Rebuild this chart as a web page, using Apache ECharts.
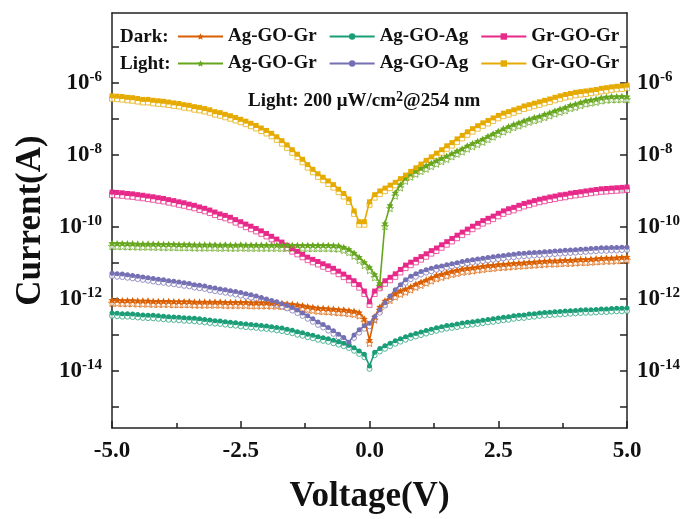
<!DOCTYPE html>
<html>
<head>
<meta charset="utf-8">
<script src="https://cdn.jsdelivr.net/npm/echarts@6/dist/echarts.min.js"></script>
<style>html,body{margin:0;padding:0;background:#fff;}#c{width:692px;height:519px;}</style>
</head>
<body>
<div id="c"></div>
<script>
const voltage = [-5.0,-4.9,-4.8,-4.7,-4.6,-4.5,-4.4,-4.3,-4.2,-4.1,
 -4.0,-3.9,-3.8,-3.7,-3.6,-3.5,-3.4,-3.3,-3.2,-3.1,
 -3.0,-2.9,-2.8,-2.7,-2.6,-2.5,-2.4,-2.3,-2.2,-2.1,
 -2.0,-1.9,-1.8,-1.7,-1.6,-1.5,-1.4,-1.3,-1.2,-1.1,
 -1.0,-0.9,-0.8,-0.7,-0.6,-0.5,-0.4,-0.3,-0.2,-0.1,
 0.0,0.1,0.2,0.3,0.4,0.5,0.6,0.7,0.8,0.9,
 1.0,1.1,1.2,1.3,1.4,1.5,1.6,1.7,1.8,1.9,
 2.0,2.1,2.2,2.3,2.4,2.5,2.6,2.7,2.8,2.9,
 3.0,3.1,3.2,3.3,3.4,3.5,3.6,3.7,3.8,3.9,
 4.0,4.1,4.2,4.3,4.4,4.5,4.6,4.7,4.8,4.9,
 5.0];

// Dark: Ag-GO-Gr
const darkAgGOGr = [9.3e-13,9.3e-13,9.1e-13,9.1e-13,9.1e-13,8.9e-13,8.9e-13,8.9e-13,8.7e-13,8.7e-13,
 8.7e-13,8.7e-13,8.5e-13,8.5e-13,8.5e-13,8.5e-13,8.3e-13,8.3e-13,8.3e-13,8.3e-13,
 8.3e-13,8.3e-13,8.1e-13,8.1e-13,8.1e-13,8.1e-13,8.1e-13,7.9e-13,7.9e-13,7.9e-13,
 7.9e-13,7.8e-13,7.8e-13,7.6e-13,7.4e-13,7.2e-13,6.9e-13,6.6e-13,6.2e-13,5.9e-13,
 5.6e-13,5.5e-13,5.4e-13,5.25e-13,5.1e-13,5.0e-13,4.8e-13,4.6e-13,4.2e-13,2.8e-13,
 7.2e-14,3.2e-13,6.0e-13,8.9e-13,1.12e-12,1.4e-12,1.66e-12,1.9e-12,2.2e-12,2.6e-12,
 2.95e-12,3.4e-12,3.9e-12,4.5e-12,4.9e-12,5.4e-12,5.9e-12,6.3e-12,6.8e-12,7.1e-12,
 7.4e-12,7.8e-12,8.1e-12,8.5e-12,8.7e-12,9.1e-12,9.3e-12,9.5e-12,9.8e-12,1.0e-11,
 1.02e-11,1.05e-11,1.07e-11,1.1e-11,1.12e-11,1.15e-11,1.15e-11,1.17e-11,1.2e-11,1.2e-11,
 1.23e-11,1.26e-11,1.26e-11,1.29e-11,1.32e-11,1.35e-11,1.38e-11,1.38e-11,1.41e-11,1.45e-11,
 1.48e-11];

// Dark: Ag-GO-Ag
const darkAgGOAg = [4.1e-13,4.0e-13,3.9e-13,3.9e-13,3.8e-13,3.7e-13,3.6e-13,3.55e-13,3.5e-13,3.4e-13,
 3.3e-13,3.2e-13,3.16e-13,3.1e-13,3.0e-13,2.95e-13,2.9e-13,2.8e-13,2.7e-13,2.6e-13,
 2.5e-13,2.45e-13,2.34e-13,2.24e-13,2.19e-13,2.09e-13,2.0e-13,1.95e-13,1.9e-13,1.82e-13,
 1.78e-13,1.7e-13,1.62e-13,1.55e-13,1.45e-13,1.35e-13,1.23e-13,1.15e-13,1.05e-13,9.8e-14,
 8.9e-14,8.3e-14,7.8e-14,7.1e-14,6.5e-14,5.9e-14,5.25e-14,4.4e-14,3.6e-14,2.9e-14,
 1.38e-14,3.3e-14,4.2e-14,5.0e-14,5.9e-14,6.9e-14,7.9e-14,8.9e-14,1.0e-13,1.1e-13,
 1.2e-13,1.32e-13,1.45e-13,1.58e-13,1.7e-13,1.82e-13,1.9e-13,2.0e-13,2.14e-13,2.24e-13,
 2.34e-13,2.45e-13,2.57e-13,2.7e-13,2.8e-13,2.95e-13,3.1e-13,3.2e-13,3.4e-13,3.55e-13,
 3.6e-13,3.8e-13,3.9e-13,4.1e-13,4.2e-13,4.3e-13,4.4e-13,4.5e-13,4.6e-13,4.7e-13,
 4.8e-13,4.9e-13,5.0e-13,5.0e-13,5.1e-13,5.25e-13,5.25e-13,5.4e-13,5.5e-13,5.5e-13,
 5.6e-13];

// Dark: Gr-GO-Gr
const darkGrGOGr = [9.3e-10,9.1e-10,8.9e-10,8.5e-10,8.3e-10,7.9e-10,7.6e-10,7.2e-10,6.9e-10,6.5e-10,
 6.2e-10,5.75e-10,5.4e-10,5.0e-10,4.7e-10,4.3e-10,4.0e-10,3.6e-10,3.3e-10,2.95e-10,
 2.6e-10,2.3e-10,2.1e-10,1.86e-10,1.6e-10,1.4e-10,1.2e-10,1.05e-10,9.1e-11,7.8e-11,
 6.6e-11,5.5e-11,4.6e-11,3.8e-11,3.1e-11,2.5e-11,2.1e-11,1.74e-11,1.45e-11,1.26e-11,
 1.1e-11,9.5e-12,8.3e-12,7.1e-12,5.9e-12,4.9e-12,4.0e-12,3.2e-12,2.5e-12,1.66e-12,
 8.3e-13,1.66e-12,2.4e-12,3.2e-12,4.0e-12,5.0e-12,6.6e-12,8.7e-12,1.05e-11,1.26e-11,
 1.5e-11,1.8e-11,2.2e-11,2.6e-11,3.2e-11,3.9e-11,4.8e-11,5.9e-11,7.2e-11,8.7e-11,
 1.05e-10,1.26e-10,1.5e-10,1.74e-10,2.0e-10,2.4e-10,2.8e-10,3.2e-10,3.5e-10,4.0e-10,
 4.5e-10,4.9e-10,5.4e-10,5.9e-10,6.3e-10,6.8e-10,7.2e-10,7.8e-10,8.1e-10,8.7e-10,
 9.1e-10,9.5e-10,1.0e-9,1.05e-9,1.1e-9,1.15e-9,1.17e-9,1.2e-9,1.23e-9,1.26e-9,
 1.29e-9];

// Light: Ag-GO-Gr
const lightAgGOGr = [3.55e-11,3.5e-11,3.5e-11,3.45e-11,3.45e-11,3.4e-11,3.4e-11,3.4e-11,3.35e-11,3.35e-11,
 3.3e-11,3.3e-11,3.3e-11,3.25e-11,3.25e-11,3.25e-11,3.2e-11,3.2e-11,3.2e-11,3.2e-11,
 3.2e-11,3.15e-11,3.2e-11,3.15e-11,3.15e-11,3.2e-11,3.15e-11,3.15e-11,3.15e-11,3.15e-11,
 3.15e-11,3.15e-11,3.15e-11,3.1e-11,3.15e-11,3.1e-11,3.1e-11,3.1e-11,3.1e-11,3.1e-11,
 3.1e-11,3.1e-11,3.1e-11,3.05e-11,3.0e-11,2.75e-11,2.4e-11,1.9e-11,1.45e-11,1.05e-11,
 7.6e-12,4.8e-12,2.75e-12,1.26e-10,4.0e-10,8.9e-10,1.5e-9,2.3e-9,3.0e-9,3.6e-9,
 4.3e-9,5.0e-9,5.9e-9,6.9e-9,8.1e-9,9.3e-9,1.1e-8,1.3e-8,1.5e-8,1.8e-8,
 2.1e-8,2.4e-8,2.8e-8,3.3e-8,3.9e-8,4.6e-8,5.4e-8,6.2e-8,7.1e-8,7.9e-8,
 8.9e-8,1.0e-7,1.1e-7,1.2e-7,1.35e-7,1.5e-7,1.7e-7,1.9e-7,2.1e-7,2.4e-7,
 2.6e-7,2.9e-7,3.2e-7,3.4e-7,3.6e-7,3.9e-7,4.1e-7,4.2e-7,4.2e-7,4.3e-7,
 4.2e-7];

// Light: Ag-GO-Ag
const lightAgGOAg = [5.2e-12,5.0e-12,4.9e-12,4.7e-12,4.5e-12,4.3e-12,4.1e-12,3.9e-12,3.7e-12,3.5e-12,
 3.4e-12,3.2e-12,3.1e-12,2.95e-12,2.8e-12,2.7e-12,2.5e-12,2.4e-12,2.3e-12,2.1e-12,
 2.0e-12,1.9e-12,1.8e-12,1.7e-12,1.6e-12,1.5e-12,1.4e-12,1.3e-12,1.2e-12,1.1e-12,
 1.0e-12,9.1e-13,8.3e-13,7.4e-13,6.6e-13,5.75e-13,4.9e-13,4.1e-13,3.4e-13,2.8e-13,
 2.3e-13,1.95e-13,1.6e-13,1.3e-13,1.05e-13,8.5e-14,6.3e-14,1.0e-13,1.4e-13,1.8e-13,
 2.1e-13,3.2e-13,5.0e-13,7.9e-13,1.2e-12,1.8e-12,2.5e-12,3.4e-12,4.3e-12,5.0e-12,
 5.75e-12,6.5e-12,7.1e-12,7.8e-12,8.3e-12,8.9e-12,9.5e-12,1.02e-11,1.1e-11,1.17e-11,
 1.23e-11,1.29e-11,1.35e-11,1.41e-11,1.48e-11,1.55e-11,1.62e-11,1.7e-11,1.74e-11,1.82e-11,
 1.86e-11,1.91e-11,1.95e-11,2.0e-11,2.04e-11,2.09e-11,2.14e-11,2.19e-11,2.24e-11,2.29e-11,
 2.34e-11,2.4e-11,2.45e-11,2.51e-11,2.57e-11,2.63e-11,2.63e-11,2.69e-11,2.69e-11,2.75e-11,
 2.75e-11];

// Light: Gr-GO-Gr
const lightGrGOGr = [4.4e-7,4.3e-7,4.2e-7,4.0e-7,3.9e-7,3.7e-7,3.5e-7,3.5e-7,3.3e-7,3.2e-7,
 3.1e-7,2.95e-7,2.8e-7,2.7e-7,2.5e-7,2.4e-7,2.2e-7,2.1e-7,1.95e-7,1.8e-7,
 1.6e-7,1.5e-7,1.35e-7,1.23e-7,1.1e-7,9.8e-8,8.7e-8,7.6e-8,6.6e-8,5.6e-8,
 4.8e-8,4.0e-8,3.2e-8,2.5e-8,1.9e-8,1.4e-8,1.05e-8,7.6e-9,5.4e-9,4.0e-9,
 3.0e-9,2.4e-9,1.9e-9,1.5e-9,1.12e-9,8.5e-10,6.0e-10,2.8e-10,1.4e-10,1.4e-10,
 5.0e-10,7.9e-10,1.0e-9,1.2e-9,1.45e-9,1.74e-9,2.2e-9,2.75e-9,3.5e-9,4.4e-9,
 5.6e-9,7.1e-9,8.9e-9,1.12e-8,1.4e-8,1.8e-8,2.2e-8,2.8e-8,3.5e-8,4.4e-8,
 5.4e-8,6.5e-8,7.8e-8,9.1e-8,1.07e-7,1.26e-7,1.45e-7,1.6e-7,1.8e-7,2.0e-7,
 2.3e-7,2.5e-7,2.75e-7,3.0e-7,3.3e-7,3.6e-7,4.0e-7,4.4e-7,4.8e-7,5.1e-7,
 5.5e-7,5.75e-7,6.0e-7,6.3e-7,6.6e-7,7.1e-7,7.4e-7,7.8e-7,8.1e-7,8.3e-7,
 8.7e-7];

const darkNames = ['Dark Ag-GO-Gr', 'Dark Ag-GO-Ag', 'Dark Gr-GO-Gr'];
const lightNames = ['Light Ag-GO-Gr', 'Light Ag-GO-Ag', 'Light Gr-GO-Gr'];
const yLabelValues = [1e-14, 1e-12, 1e-10, 1e-8, 1e-6];
const yTickValues = [1e-15, 1e-14, 1e-13, 1e-12, 1e-11, 1e-10, 1e-9, 1e-8, 1e-7, 1e-6, 1e-5];

const F = '"Liberation Serif", "Times New Roman", serif';
const STAR = 'path://M0,-10L2.94,-4.05L9.51,-3.09L4.76,1.55L5.88,8.09L0,5L-5.88,8.09L-4.76,1.55L-9.51,-3.09L-2.94,-4.05Z';

const specs = [
  { name: darkNames[0], data: darkAgGOGr, color: '#D95F02', symbol: STAR, size: 7 },
  { name: darkNames[1], data: darkAgGOAg, color: '#1B9E77', symbol: 'circle', size: 5 },
  { name: darkNames[2], data: darkGrGOGr, color: '#E7298A', symbol: 'rect', size: 5 },
  { name: lightNames[0], data: lightAgGOGr, color: '#66A61E', symbol: STAR, size: 7 },
  { name: lightNames[1], data: lightAgGOAg, color: '#7570B3', symbol: 'circle', size: 5 },
  { name: lightNames[2], data: lightGrGOGr, color: '#E6AB02', symbol: 'rect', size: 5 }
];

const series = [];
specs.forEach(s => {
  series.push({
    name: s.name + ' (sweep)', type: 'line', silent: true,
    data: voltage.map((v, k) => [v, s.data[k]]),
    symbol: s.symbol, symbolSize: s.size, symbolOffset: [0, 3], showAllSymbol: true,
    itemStyle: { color: '#fff', borderColor: s.color, borderWidth: 1, opacity: 0.75 },
    lineStyle: { opacity: 0 }, z: 2, animation: false
  });
});
specs.forEach(s => {
  series.push({
    name: s.name, type: 'line',
    data: voltage.map((v, k) => [v, s.data[k]]),
    symbol: s.symbol, symbolSize: s.size, showAllSymbol: true,
    itemStyle: { color: s.color },
    lineStyle: { color: s.color, width: 1.6 }, z: 3, animation: false
  });
});

const yLabel = {
  customValues: yLabelValues,
  formatter: v => '{b|10}{s|' + Math.round(Math.log10(v)) + '}',
  rich: {
    b: { fontSize: 23, fontWeight: 'bold', fontFamily: F, color: '#111' },
    s: { fontSize: 15, fontWeight: 'bold', fontFamily: F, color: '#111', verticalAlign: 'top', padding: [0, 0, 12, 0] }
  }
};
const axisLineStyle = { color: '#222', width: 1.5 };
const tickStyle = { color: '#222', width: 1.5 };

const legendCommon = {
  left: 177, itemWidth: 45, itemHeight: 8, itemGap: 12, padding: 0,
  selectedMode: false,
  formatter: n => n.replace(/^(Dark|Light) /, ''),
  textStyle: { fontSize: 19, fontWeight: 'bold', fontFamily: F, color: '#111' }
};

const option = {
  animation: false,
  backgroundColor: '#fff',
  grid: { left: 112, right: 65, top: 13, bottom: 91, containLabel: false },
  legend: [
    Object.assign({}, legendCommon, { data: darkNames, top: 27 }),
    Object.assign({}, legendCommon, { data: lightNames, top: 54 })
  ],
  xAxis: [{
    type: 'value', min: -5, max: 5, interval: 2.5, position: 'bottom',
    name: 'Voltage(V)', nameLocation: 'middle', nameGap: 51,
    nameTextStyle: { fontSize: 35, fontWeight: 'bold', fontFamily: F, color: '#111' },
    axisLine: { show: true, onZero: false, lineStyle: axisLineStyle },
    axisTick: { show: true, inside: true, length: 7, lineStyle: tickStyle },
    minorTick: { show: true, splitNumber: 2, length: 5, lineStyle: tickStyle },
    axisLabel: { margin: 12, formatter: v => v.toFixed(1), fontSize: 23, fontWeight: 'bold', fontFamily: F, color: '#111' },
    splitLine: { show: false }
  }, {
    type: 'value', min: -5, max: 5, position: 'top',
    axisLine: { show: true, onZero: false, lineStyle: axisLineStyle },
    axisTick: { show: false }, axisLabel: { show: false }, splitLine: { show: false }
  }],
  yAxis: [{
    type: 'log', logBase: 10, min: 2.6e-16, max: 8.8e-5, position: 'left',
    name: 'Current(A)', nameLocation: 'middle', nameGap: 64, nameRotate: 90,
    nameTextStyle: { fontSize: 35, fontWeight: 'bold', fontFamily: F, color: '#111' },
    axisLine: { show: true, onZero: false, lineStyle: axisLineStyle },
    axisTick: { show: true, inside: true, length: 7, customValues: yTickValues, lineStyle: tickStyle },
    axisLabel: Object.assign({ margin: 10 }, yLabel),
    splitLine: { show: false }, minorTick: { show: false }
  }, {
    type: 'log', logBase: 10, min: 2.6e-16, max: 8.8e-5, position: 'right',
    axisLine: { show: true, onZero: false, lineStyle: axisLineStyle },
    axisTick: { show: true, inside: true, length: 7, customValues: yTickValues, lineStyle: tickStyle },
    axisLabel: Object.assign({ margin: 10 }, yLabel),
    splitLine: { show: false }, minorTick: { show: false }
  }],
  graphic: [
    { type: 'text', left: 120, top: 28, style: { text: 'Dark:', font: 'bold 19px ' + F, fill: '#111' } },
    { type: 'text', left: 120, top: 55, style: { text: 'Light:', font: 'bold 19px ' + F, fill: '#111' } },
    { type: 'text', left: 248, top: 90, style: {
      text: '{n|Light: 200 μW/cm}{s|2}{n|@254 nm}',
      rich: {
        n: { fontSize: 19, fontWeight: 'bold', fontFamily: F, fill: '#111', color: '#111' },
        s: { fontSize: 14, fontWeight: 'bold', fontFamily: F, fill: '#111', color: '#111', verticalAlign: 'top', padding: [0, 0, 8, 0] }
      }
    } }
  ],
  series: series
};

const chart = echarts.init(document.getElementById('c'), null, { renderer: 'canvas' });
chart.setOption(option);
</script>
</body>
</html>
